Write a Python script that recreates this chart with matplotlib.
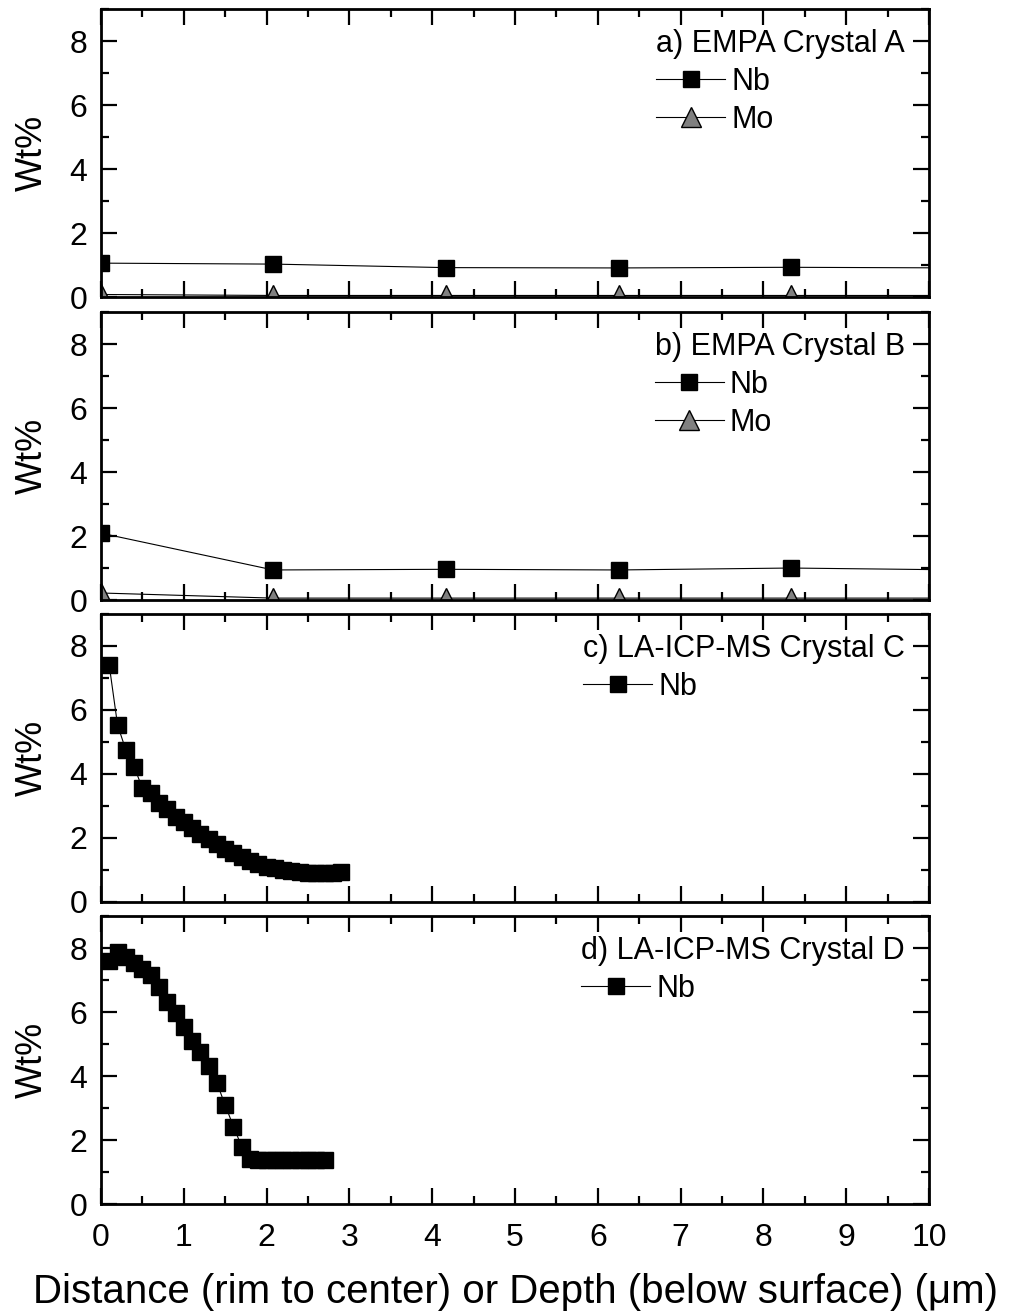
"""
four stacked Nb / Mo profiles: EMPA traverses (a, b) and LA-ICP-MS depth profiles (c, d)
"""

import matplotlib
matplotlib.use('Agg')

from matplotlib import pyplot as plt
from matplotlib.ticker import MultipleLocator


# --------------------------------------------------------------------------------------------------------------------
# data...

empa_x = [0.0, 2.08, 4.17, 6.25, 8.33, 10.42]

nb_a = [1.06, 1.03, 0.92, 0.91, 0.93, 0.91]
mo_a = [0.08, 0.05, 0.05, 0.05, 0.05, 0.05]

nb_b = [2.09, 0.94, 0.96, 0.94, 1.00, 0.94]
mo_b = [0.22, 0.06, 0.06, 0.06, 0.06, 0.06]

icp_c_x = [0.1, 0.2, 0.3, 0.4, 0.5, 0.6, 0.7, 0.8, 0.9, 1.0,
           1.1, 1.2, 1.3, 1.4, 1.5, 1.6, 1.7, 1.8, 1.9, 2.0,
           2.1, 2.2, 2.3, 2.4, 2.5, 2.6, 2.7, 2.8, 2.9]
nb_c = [7.39, 5.53, 4.75, 4.23, 3.55, 3.42, 3.08, 2.91, 2.64, 2.50,
        2.30, 2.12, 1.96, 1.80, 1.65, 1.52, 1.39, 1.28, 1.18, 1.10,
        1.05, 1.00, 0.97, 0.94, 0.92, 0.91, 0.91, 0.91, 0.93]

icp_d_x = [0.1, 0.2, 0.3, 0.4, 0.5, 0.6, 0.7, 0.8, 0.9, 1.0,
           1.1, 1.2, 1.3, 1.4, 1.5, 1.6, 1.7, 1.8, 1.9, 2.0,
           2.1, 2.2, 2.3, 2.4, 2.5, 2.6, 2.7]
nb_d = [7.60, 7.87, 7.71, 7.53, 7.34, 7.17, 6.77, 6.32, 5.96, 5.52,
        5.10, 4.76, 4.32, 3.78, 3.09, 2.42, 1.79, 1.41, 1.38, 1.37,
        1.36, 1.36, 1.37, 1.38, 1.38, 1.37, 1.36]

titles = ["a) EMPA Crystal A", "b) EMPA Crystal B", "c) LA-ICP-MS Crystal C", "d) LA-ICP-MS Crystal D"]

x_label = "Distance (rim to center) or Depth (below surface) (\u03bcm)"
y_label = "Wt%"


# --------------------------------------------------------------------------------------------------------------------
# style...

plt.rcParams['font.family'] = ['Liberation Sans', 'DejaVu Sans']
plt.rcParams['axes.linewidth'] = 2.0

NB_STYLE = dict(color='black', lw=0.8, marker='s', ms=12, mfc='black', mec='black', label='Nb')
MO_STYLE = dict(color='black', lw=0.8, marker='^', ms=14, mfc='#808080', mec='black', mew=1.0, label='Mo')

LEFT = 0.0995
WIDTH = 0.8158
HEIGHT = 0.2190
BOTTOMS = [0.7741, 0.5437, 0.3141, 0.0844]


# --------------------------------------------------------------------------------------------------------------------
# plotter...

fig = plt.figure(figsize=(10.15, 13.15), dpi=100)

series = [
    [(empa_x, nb_a, NB_STYLE), (empa_x, mo_a, MO_STYLE)],
    [(empa_x, nb_b, NB_STYLE), (empa_x, mo_b, MO_STYLE)],
    [(icp_c_x, nb_c, NB_STYLE)],
    [(icp_d_x, nb_d, NB_STYLE)],
]

for i, bottom in enumerate(BOTTOMS):
    ax = fig.add_axes([LEFT, bottom, WIDTH, HEIGHT])

    for xs, ys, style in series[i]:
        ax.plot(xs, ys, **style)

    ax.set_xlim(0, 10)
    ax.set_ylim(0, 9)

    ax.xaxis.set_major_locator(MultipleLocator(1))
    ax.xaxis.set_minor_locator(MultipleLocator(0.5))
    ax.yaxis.set_major_locator(MultipleLocator(2))
    ax.yaxis.set_minor_locator(MultipleLocator(1))

    ax.tick_params(which='both', direction='in', top=True, right=True, colors='black')
    ax.tick_params(which='major', length=11.5, width=1.6, labelsize=23, pad=10)
    ax.tick_params(which='minor', length=6.0, width=1.6)
    ax.tick_params(axis='x', which='major', pad=14)

    if i < 3:
        ax.tick_params(axis='x', labelbottom=False)
    else:
        ax.set_xlabel(x_label, fontsize=29, labelpad=14)

    ax.set_ylabel(y_label, fontsize=26)
    ax.yaxis.set_label_coords(-0.062, 0.5)

    ax.legend(title=titles[i], loc='upper right', bbox_to_anchor=(0.971, 0.93), frameon=False,
              fontsize=22, title_fontsize=22, alignment='left', borderpad=0, borderaxespad=0,
              handlelength=2.25, handletextpad=0.2, labelspacing=0.26)

fig.savefig('out.png', dpi=100)
